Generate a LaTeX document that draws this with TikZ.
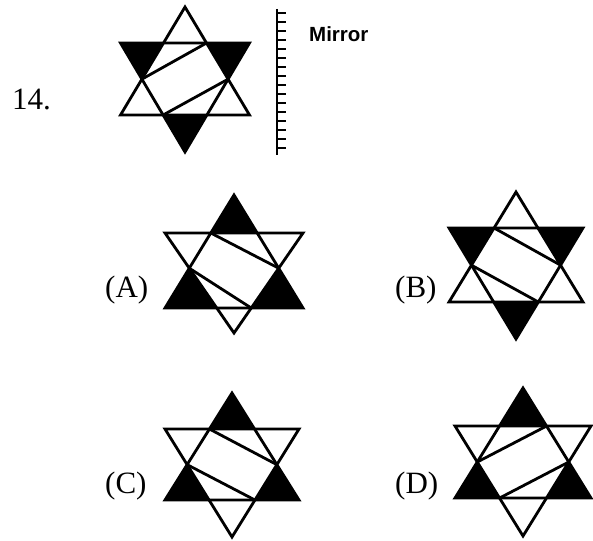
\documentclass[tikz,border=0pt]{standalone}
\usepackage{fontspec}
\setmainfont{Liberation Serif}
\newfontfamily\mirrorfont{Liberation Sans}
\tikzset{
  starline/.style={line width=2.8pt, line join=miter, line cap=butt},
  tipfill/.style={fill=black},
  lbl/.style={anchor=base west, inner sep=0pt, font=\fontsize{31}{31}\selectfont},
}
% \hexstar{cx}{ya}{yb}{yd}{ye}{w}{up|down}{pattern 1|2}
\newcommand\hexstar[8]{%
  \coordinate (U1) at (#1,#2);
  \coordinate (U2) at ({#1-#6},#3);
  \coordinate (U3) at ({#1+#6},#3);
  \coordinate (D1) at ({#1-#6},#4);
  \coordinate (D2) at ({#1+#6},#4);
  \coordinate (D3) at (#1,#5);
  \coordinate (HTL) at (intersection of U1--U2 and D1--D2);
  \coordinate (HTR) at (intersection of U1--U3 and D1--D2);
  \coordinate (HR) at (intersection of U1--U3 and D2--D3);
  \coordinate (HBR) at (intersection of U2--U3 and D2--D3);
  \coordinate (HBL) at (intersection of U2--U3 and D1--D3);
  \coordinate (HL) at (intersection of U1--U2 and D1--D3);
  \ifnum#7=1
    \fill[tipfill] (U1) -- (HTL) -- (HTR) -- cycle;
    \fill[tipfill] (U2) -- (HL) -- (HBL) -- cycle;
    \fill[tipfill] (U3) -- (HR) -- (HBR) -- cycle;
  \else
    \fill[tipfill] (D1) -- (HTL) -- (HL) -- cycle;
    \fill[tipfill] (D2) -- (HTR) -- (HR) -- cycle;
    \fill[tipfill] (D3) -- (HBR) -- (HBL) -- cycle;
  \fi
  \draw[starline] (U1) -- (U2) -- (U3) -- cycle;
  \draw[starline] (D1) -- (D2) -- (D3) -- cycle;
  \ifnum#8=1
    \draw[starline] (HL) -- (HTR);
    \draw[starline] (HR) -- (HBL);
  \else
    \draw[starline] (HTL) -- (HR);
    \draw[starline] (HL) -- (HBR);
  \fi
}
\begin{document}
\begin{tikzpicture}[x=1pt,y=-1pt]
\useasboundingbox (0,0) rectangle (593,540);
% question figure
\hexstar{185}{7}{115}{43}{152}{64.5}{2}{1}
% mirror
\coordinate (mtop) at (277,9);
\coordinate (mbot) at (277,155);
\draw[line width=2.4pt] (mtop) -- (mbot);
\foreach \i in {0,...,15} {
  \draw[line width=1.4pt] (277,{13+9*\i}) -- (286,{13+9*\i});
}
\node[anchor=base west, inner sep=0pt, font=\mirrorfont\bfseries\fontsize{20.5}{20.5}\selectfont] (mirror) at (309,42) {Mirror};
\node[lbl] (q) at (12,110) {14.};
% options
\hexstar{234}{195}{308}{233}{333}{69}{1}{2}
\node[lbl] (la) at (105,297) {(A)};
\hexstar{516}{192}{302}{228}{339}{67}{2}{2}
\node[lbl] (lb) at (395,297) {(B)};
\hexstar{232}{393}{500}{429}{537}{67}{1}{2}
\node[lbl] (lc) at (105,493) {(C)};
\hexstar{523}{388}{498}{426}{536}{68}{1}{1}
\node[lbl] (ld) at (395,493) {(D)};
\end{tikzpicture}
\end{document}
